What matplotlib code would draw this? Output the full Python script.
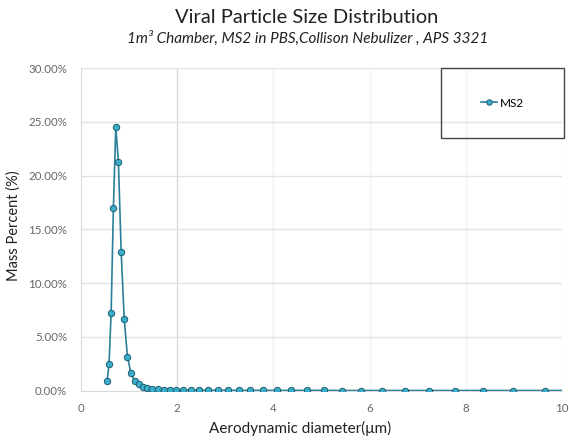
import matplotlib
matplotlib.use("Agg")
import matplotlib.pyplot as plt
from matplotlib.patches import Rectangle
from matplotlib.ticker import PercentFormatter

# APS 3321 channel midpoints (aerodynamic diameter, um) and mass percent
diameter_um = [0.542, 0.583, 0.626, 0.673, 0.723, 0.777, 0.835, 0.898, 0.965, 1.037,
               1.114, 1.197, 1.286, 1.382, 1.486, 1.596, 1.715, 1.843, 1.981, 2.129,
               2.288, 2.458, 2.642, 2.839, 3.051, 3.278, 3.523, 3.786, 4.068, 4.371,
               4.698, 5.048, 5.425, 5.829, 6.264, 6.732, 7.234, 7.774, 8.354, 8.977,
               9.647, 10.37]
mass_pct = [0.84, 2.48, 7.22, 16.95, 24.5, 21.28, 12.86, 6.66, 3.16, 1.61,
            0.92, 0.58, 0.36, 0.23, 0.17, 0.11, 0.08, 0.06, 0.05, 0.04,
            0.03, 0.03, 0.02, 0.02, 0.02, 0.01, 0.01, 0.01, 0.01, 0.01,
            0.01, 0.01, 0.0, 0.0, 0.0, 0.0, 0.0, 0.0, 0.0, 0.0,
            0.0, 0.0]
series_name = "MS2"
x_ticks = [0, 2, 4, 6, 8, 10]
y_ticks = [0, 5, 10, 15, 20, 25, 30]

title = "Viral Particle Size Distribution"
subtitle = "1m³ Chamber, MS2 in PBS,Collison Nebulizer , APS 3321"

FONT = ["Lato", "DejaVu Sans"]
LINE, FILL, EDGE = "#2b7f98", "#3aadcb", "#1d5e70"
TICK_GREY = "#666666"

plt.rcParams["font.family"] = FONT

fig = plt.figure(figsize=(5.69, 4.42), dpi=100)
ax = fig.add_axes([0.1424, 0.1165, 0.8453, 0.7296])

ax.plot(diameter_um, mass_pct, color=LINE, lw=1.2, marker="o", ms=4.6,
        mfc=FILL, mec=EDGE, mew=0.7, label=series_name, zorder=3)

ax.set_xlim(0, 10)
ax.set_ylim(0, 30)
ax.set_xticks(x_ticks)
ax.set_yticks(y_ticks)
ax.yaxis.set_major_formatter(PercentFormatter(xmax=100, decimals=2))
ax.tick_params(length=0, labelsize=8.3, colors=TICK_GREY)
ax.tick_params(axis="y", pad=10)
ax.tick_params(axis="x", pad=9)

# light grid: horizontal every 5 %, x=2 a bit darker than the rest
ax.grid(axis="y", color="#e2e2e2", lw=1.0)
for xv in x_ticks[1:]:
    ax.axvline(xv, color="#d8d8d8" if xv == 2 else "#f2f2f2", lw=1.0, zorder=0)
ax.set_axisbelow(True)
for side in ("top", "right"):
    ax.spines[side].set_visible(False)
for side in ("left", "bottom"):
    ax.spines[side].set_color("#d9d9d9")

ax.set_xlabel("Aerodynamic diameter(μm)", fontsize=11, color="#222222")
ax.xaxis.set_label_coords(0.455, -0.095)
ax.set_ylabel("Mass Percent (%)", fontsize=10.5, color="#222222")
ax.yaxis.set_label_coords(-0.126, 0.51)

# legend box in the upper right corner
ax.add_patch(Rectangle((0.748, 0.783), 0.256, 0.217, transform=ax.transAxes,
                       fill=False, ec="#444444", lw=1.0, clip_on=False, zorder=5))
ax.legend(loc="center", bbox_to_anchor=(0.748, 0.783, 0.256, 0.217), frameon=False,
          fontsize=8.5, handlelength=1.4, handletextpad=0.2, markerscale=0.85)

fig.text(0.539, 0.9615, title, ha="center", va="center", fontsize=14.5, color="#222222")
fig.text(0.540, 0.914, subtitle, ha="center", va="center", fontsize=11,
         style="italic", color="#222222")

fig.savefig("out.png", dpi=100)
